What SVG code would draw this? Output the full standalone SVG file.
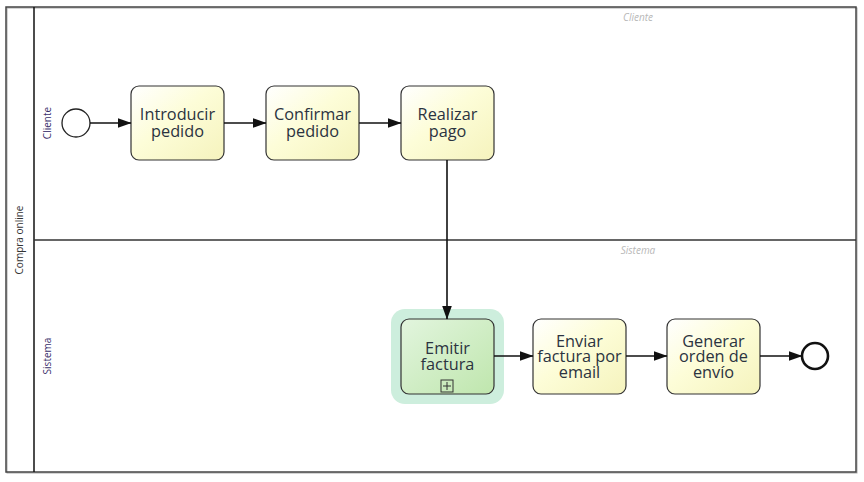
<svg xmlns="http://www.w3.org/2000/svg" width="864" height="482" viewBox="0 0 864 482">
<style>
.task{stroke:#333;stroke-width:1.2;}
.tt{font-family:"Open Sans","Noto Sans",sans-serif;font-size:16.3px;fill:#2b3340;text-anchor:middle;}
.lbl{font-family:"Open Sans","Noto Sans",sans-serif;font-size:10px;fill:#3a2f6b;text-anchor:middle;}
.wm{font-family:"Open Sans","Noto Sans",sans-serif;font-size:10px;font-style:italic;fill:#b8b8b8;text-anchor:middle;}
.flow{fill:none;stroke:#111;stroke-width:1.6;}
</style>
<defs>
<linearGradient id="gy" x1="0" y1="0" x2="1" y2="1">
<stop offset="0" stop-color="#ffffff"/>
<stop offset="0.45" stop-color="#fdfdd8"/>
<stop offset="1" stop-color="#f5f3bd"/>
</linearGradient>
<linearGradient id="gg" x1="0" y1="0" x2="1" y2="1">
<stop offset="0" stop-color="#e2f5de"/>
<stop offset="1" stop-color="#bfe6ad"/>
</linearGradient>
<marker id="arr" markerWidth="14" markerHeight="10" refX="13.5" refY="5" orient="auto" markerUnits="userSpaceOnUse">
<path d="M0,0 L14,5 L0,10 Z" fill="#111"/>
</marker>
</defs>
<rect width="864" height="482" fill="#fff"/>
<g id="pool">
<rect x="7" y="8" width="850" height="465" fill="none" stroke="#aaa" stroke-width="1"/>
<rect x="6" y="7" width="850" height="465" fill="none" stroke="#444" stroke-width="1.5"/>
<line x1="34" y1="7" x2="34" y2="472" stroke="#111" stroke-width="1.5"/>
<line x1="34" y1="240" x2="856" y2="240" stroke="#333" stroke-width="1.5"/>
<text class="lbl" transform="translate(23,240) rotate(-90)" style="fill:#333">Compra online</text>
<text class="lbl" transform="translate(51,123) rotate(-90)">Cliente</text>
<text class="lbl" transform="translate(51,356) rotate(-90)">Sistema</text>
<text class="wm" x="638" y="21">Cliente</text>
<text class="wm" x="638" y="254">Sistema</text>
</g>
<g id="start">
<circle cx="76" cy="123" r="14" fill="#fff" stroke="#222" stroke-width="1.3"/>
</g>
<g id="t1">
<rect class="task" x="131" y="86" width="93" height="74" rx="8" fill="url(#gy)"/>
<text class="tt"><tspan x="177.5" y="120">Introducir</tspan><tspan x="177.5" y="137">pedido</tspan></text>
</g>
<g id="t2">
<rect class="task" x="266" y="86" width="93" height="74" rx="8" fill="url(#gy)"/>
<text class="tt"><tspan x="312.5" y="120">Confirmar</tspan><tspan x="312.5" y="137">pedido</tspan></text>
</g>
<g id="t3">
<rect class="task" x="401" y="86" width="93" height="74" rx="8" fill="url(#gy)"/>
<text class="tt"><tspan x="447.5" y="120">Realizar</tspan><tspan x="447.5" y="137">pago</tspan></text>
</g>
<g id="t4">
<rect x="391" y="309" width="113" height="95" rx="14" fill="#cdeedd"/>
<rect class="task" x="401" y="319" width="93" height="75" rx="8" fill="url(#gg)"/>
<text class="tt"><tspan x="447.5" y="354">Emitir</tspan><tspan x="447.5" y="370">factura</tspan></text>
<rect x="441" y="380" width="12" height="12" fill="none" stroke="#333" stroke-width="1"/>
<line x1="443" y1="386" x2="451" y2="386" stroke="#333" stroke-width="1"/>
<line x1="447" y1="382" x2="447" y2="390" stroke="#333" stroke-width="1"/>
</g>
<g id="t5">
<rect class="task" x="533" y="319" width="93" height="75" rx="8" fill="url(#gy)"/>
<text class="tt"><tspan x="579.5" y="346.5">Enviar</tspan><tspan x="579.5" y="362">factura por</tspan><tspan x="579.5" y="377.5">email</tspan></text>
</g>
<g id="t6">
<rect class="task" x="667" y="319" width="93" height="75" rx="8" fill="url(#gy)"/>
<text class="tt"><tspan x="713.5" y="346.5">Generar</tspan><tspan x="713.5" y="362">orden de</tspan><tspan x="713.5" y="377.5">envío</tspan></text>
</g>
<g id="end">
<circle cx="815" cy="356" r="13" fill="#fff" stroke="#111" stroke-width="2.6"/>
</g>
<g id="connectors">
<line class="flow" x1="90" y1="123" x2="131" y2="123" marker-end="url(#arr)"/>
<line class="flow" x1="224" y1="123" x2="266" y2="123" marker-end="url(#arr)"/>
<line class="flow" x1="359" y1="123" x2="401" y2="123" marker-end="url(#arr)"/>
<line class="flow" x1="447" y1="160" x2="447" y2="319" marker-end="url(#arr)"/>
<line class="flow" x1="494" y1="356" x2="533" y2="356" marker-end="url(#arr)"/>
<line class="flow" x1="626" y1="356" x2="667" y2="356" marker-end="url(#arr)"/>
<line class="flow" x1="760" y1="356" x2="802" y2="356" marker-end="url(#arr)"/>
</g>
</svg>
